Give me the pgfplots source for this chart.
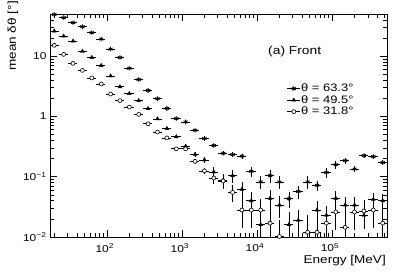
\documentclass[border=0pt]{standalone}
\usepackage{fontspec}
\setmainfont{Liberation Sans}[FakeStretch=1.2]
\usepackage{pgfplots}
\usepackage{pgfplotstable}
\pgfplotsset{compat=1.18}

\pgfplotstableread{
x y ey
19.95 49 0.02
26.61 43.5 0.02
35.48 35.9 0.02
47.32 30.8 0.02
63.10 24.5 0.02
84.14 19.2 0.02
112.2 13.1 0.02
149.6 9.5 0.02
199.5 6.3 0.02
266.1 4.1 0.02
354.8 2.7 0.02
473.2 1.97 0.03
631.0 1.36 0.03
841.4 0.92 0.03
1122 0.81 0.03
1496 0.59 0.04
1995 0.43 0.05
2661 0.33 0.06
3548 0.245 0.08
4732 0.233 0.08
6310 0.22 0.1
8414 0.123 0.2
11220 0.082 0.25
14962 0.104 0.25
19953 0.082 0.25
26607 0.043 0.3
35481 0.057 0.25
47315 0.082 0.25
63096 0.072 0.2
84140 0.118 0.18
112202 0.158 0.15
149624 0.185 0.12
199526 0.134 0.12
266073 0.224 0.08
354813 0.216 0.08
473151 0.172 0.08
}\stars

\pgfplotstableread{
x y ey
19.95 26.1 0.03
26.61 21.5 0.03
35.48 17.8 0.03
47.32 12.0 0.03
63.10 9.5 0.03
84.14 7.0 0.03
112.2 4.7 0.03
149.6 3.1 0.03
199.5 2.39 0.03
266.1 1.83 0.03
354.8 1.35 0.03
473.2 0.91 0.04
631.0 0.63 0.05
841.4 0.46 0.06
1122 0.32 0.07
1496 0.235 0.08
1995 0.19 0.1
2661 0.12 0.2
3548 0.088 0.25
4732 0.104 0.25
6310 0.062 0.3
8414 0.040 0.4
11220 0.016 0.6
14962 0.044 0.35
19953 0.034 0.4
26607 0.016 0.6
35481 0.019 0.5
47315 0.012 0.6
63096 0.028 0.4
84140 0.023 0.4
112202 0.044 0.3
149624 0.034 0.35
199526 0.034 0.35
266073 0.023 0.4
354813 0.042 0.3
473151 0.040 0.3
}\triangles

\pgfplotstableread{
x y ey
19.95 15.1 0.03
26.61 10.7 0.03
35.48 7.6 0.03
47.32 5.8 0.03
63.10 4.35 0.03
84.14 3.45 0.03
112.2 2.35 0.03
149.6 1.83 0.03
199.5 1.43 0.03
266.1 1.08 0.03
354.8 0.755 0.03
473.2 0.55 0.04
631.0 0.44 0.05
841.4 0.29 0.06
1122 0.29 0.07
1496 0.18 0.1
1995 0.125 0.12
2661 0.095 0.2
3548 0.085 0.25
4732 0.055 0.3
6310 0.028 0.5
8414 0.028 0.5
11220 0.028 0.5
14962 0.017 0.7
19953 0.0102 0.9
47315 0.012 0.9
63096 0.012 0.9
84140 0.017 0.6
112202 0.026 0.5
149624 0.0145 0.7
199526 0.026 0.5
266073 0.027 0.5
354813 0.028 0.5
473151 0.017 0.7
}\circles

\begin{document}
\begin{tikzpicture}
\useasboundingbox (-50pt,-36pt) rectangle (349pt,237pt);
\begin{axis}[
  at={(0pt,0pt)}, anchor=south west,
  scale only axis, width=337pt, height=223pt,
  xmode=log, ymode=log,
  xmin=17.5, xmax=5.4e5, ymin=0.01, ymax=50,
  axis line style={line width=0.8pt},
  tick align=inside, tick pos=both,
  major tick length=7pt, minor tick length=4pt,
  tick style={line width=0.6pt, black},
  xtick={100,1000,10000,100000},
  xticklabels={10\textsuperscript{2},10\textsuperscript{3},10\textsuperscript{4},10\textsuperscript{5}},
  minor xtick={20,30,40,50,60,70,80,90,200,300,400,500,600,700,800,900,2000,3000,4000,5000,6000,7000,8000,9000,20000,30000,40000,50000,60000,70000,80000,90000,200000,300000,400000,500000},
  ytick={0.01,0.1,1,10},
  yticklabels={10\textsuperscript{−2},10\textsuperscript{−1},1,10},
  minor ytick={0.02,0.03,0.04,0.05,0.06,0.07,0.08,0.09,0.2,0.3,0.4,0.5,0.6,0.7,0.8,0.9,2,3,4,5,6,7,8,9,20,30,40,50},
  ticklabel style={font=\fontsize{10}{11}\selectfont},
  xticklabel style={yshift=-3pt, xshift=-2pt},
  legend style={at={(rel axis cs:0.703,0.69)}, anchor=north west, draw=none, fill=none,
    font=\fontsize{10.8}{10.8}\selectfont, row sep=1pt, inner sep=0pt, nodes={inner sep=0.6pt}},
  legend cell align=left,
  legend image code/.code={\draw[sharp plot, mark repeat=2, mark phase=2] plot coordinates {(0pt,0pt) (6.5pt,0pt) (13pt,0pt)};},
]
\addplot[black, only marks, mark=asterisk, mark size=2.4pt, mark options={line width=0.8pt},
  error bars/.cd, x dir=both, x fixed relative=0.14, y dir=both, y explicit relative,
  error mark=none, error bar style={line width=0.7pt, black}]
  table[x=x, y=y, y error=ey]{\stars};
\addlegendentry{θ = 63.3°}
\addplot[black, only marks, mark=triangle*, mark size=2.2pt,
  error bars/.cd, x dir=both, x fixed relative=0.14, y dir=both, y explicit relative,
  error mark=none, error bar style={line width=0.7pt, black}]
  table[x=x, y=y, y error=ey]{\triangles};
\addlegendentry{θ = 49.5°}
\addplot[black, only marks, mark=*, mark size=2pt, mark options={fill=white, draw=black, line width=0.6pt},
  error bars/.cd, x dir=both, x fixed relative=0.14, y dir=both, y explicit relative,
  error mark=none, error bar style={line width=0.7pt, black}]
  table[x=x, y=y, y error=ey]{\circles};
\addlegendentry{θ = 31.8°}
\node[anchor=west, inner sep=0pt, font=\fontsize{11.5}{12}\selectfont] at (rel axis cs:0.647,0.832) {(a) Front};
\end{axis}
\node[rotate=90, anchor=east, inner sep=0pt, font=\fontsize{11.3}{12}\selectfont] at (-37pt,236pt) {mean δθ [°]};
\node[anchor=base east, inner sep=0pt, font=\fontsize{11.3}{12}\selectfont] at (336pt,-27pt) {Energy [MeV]};
\end{tikzpicture}
\end{document}
